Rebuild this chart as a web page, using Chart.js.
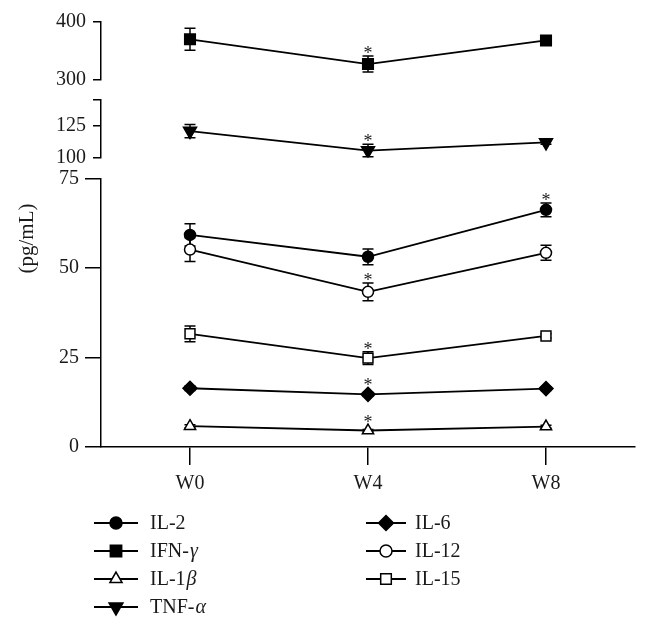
<!DOCTYPE html>
<html>
<head>
<meta charset="utf-8">
<script src="https://cdn.jsdelivr.net/npm/chart.js"></script>
<style>
  html, body { margin: 0; padding: 0; background: #fff; }
  #wrap { width: 648px; height: 628px; }
</style>
</head>
<body>
<div id="wrap"><canvas id="cytokines" width="648" height="628"></canvas></div>
<script>
// --- data ---
var weeks = ['W0', 'W4', 'W8'];

var il2 = [59.2, 53.1, 66.2];
var il2Err = [3.1, 2.2, 1.9];
var il2Sig = [false, false, true];

var ifnG = [370, 327, 368];
var ifnGErr = [19, 14, 5];
var ifnGSig = [false, true, false];

var il1b = [5.8, 4.6, 5.7];
var il1bErr = [0.4, 0.3, 0.4];
var il1bSig = [false, true, false];

var tnfA = [121, 105.6, 112];
var tnfAErr = [5.3, 5, 1.5];
var tnfASig = [false, true, false];

var il6 = [16.4, 14.7, 16.3];
var il6Err = [0.6, 0.5, 0.5];
var il6Sig = [false, true, false];

var il12 = [55.1, 43.3, 54.2];
var il12Err = [3.3, 2.5, 2.1];
var il12Sig = [false, true, false];

var il15 = [31.6, 24.8, 31];
var il15Err = [2.2, 1.8, 0.6];
var il15Sig = [false, true, false];

// broken y axis: three ranges and their tick labels
var topRange = [300, 400];
var topTicks = [300, 400];
var midRange = [100, 146];
var midTicks = [100, 125];
var botRange = [0, 75];
var botTicks = [0, 25, 50, 75];

var SERIF = '"Liberation Serif", "DejaVu Serif", serif';

// marker look for each series (legend column 1 first, then column 2)
var series = [
  { label: 'IL-2', data: il2, err: il2Err, sig: il2Sig, axis: 'yBot', style: 'circle', filled: true, r: 5.5, rot: 0 },
  { label: 'IFN-γ', data: ifnG, err: ifnGErr, sig: ifnGSig, axis: 'yTop', style: 'rect', filled: true, r: 7.5, rot: 0 },
  { label: 'IL-1β', data: il1b, err: il1bErr, sig: il1bSig, axis: 'yBot', style: 'triangle', filled: false, r: 6.5, rot: 0 },
  { label: 'TNF-α', data: tnfA, err: tnfAErr, sig: tnfASig, axis: 'yMid', style: 'triangle', filled: true, r: 7.5, rot: 180 },
  { label: 'IL-6', data: il6, err: il6Err, sig: il6Sig, axis: 'yBot', style: 'rectRot', filled: true, r: 7, rot: 0 },
  { label: 'IL-12', data: il12, err: il12Err, sig: il12Sig, axis: 'yBot', style: 'circle', filled: false, r: 5.5, rot: 0 },
  { label: 'IL-15', data: il15, err: il15Err, sig: il15Sig, axis: 'yBot', style: 'rect', filled: false, r: 7, rot: 0 }
];

function tickSetter(values, extraMax) {
  return function (scale) {
    var t = values.map(function (v) { return { value: v }; });
    if (extraMax) t.push({ value: scale.max });
    scale.ticks = t;
  };
}

function yAxis(range, ticks, weight, tickLen, pad, extraMax) {
  return {
    type: 'linear',
    position: 'left',
    stack: 'y',
    stackWeight: weight,
    min: range[0],
    max: range[1],
    afterBuildTicks: tickSetter(ticks, extraMax),
    afterFit: function (scale) { scale.width = 62; },
    border: { color: '#000', width: 1.5 },
    grid: { drawOnChartArea: false, color: '#000', tickColor: '#000', lineWidth: 1.5, tickLength: tickLen },
    ticks: {
      color: '#1a1a1a',
      padding: pad,
      autoSkip: false,
      font: { family: SERIF, size: 20 },
      callback: function (v) { return ticks.indexOf(v) >= 0 ? String(v) : ''; }
    }
  };
}

// error bars behind the markers, asterisks above them
var errorBars = {
  id: 'errorBars',
  beforeDatasetsDraw: function (chart) {
    var ctx = chart.ctx;
    ctx.save();
    ctx.strokeStyle = '#000';
    ctx.lineWidth = 1.5;
    chart.data.datasets.forEach(function (ds, i) {
      var meta = chart.getDatasetMeta(i);
      var ys = chart.scales[ds.yAxisID];
      meta.data.forEach(function (pt, j) {
        var e = ds.errors[j];
        if (!e) return;
        var top = ys.getPixelForValue(ds.data[j] + e);
        var bot = ys.getPixelForValue(ds.data[j] - e);
        ctx.beginPath();
        ctx.moveTo(pt.x, top); ctx.lineTo(pt.x, bot);
        ctx.moveTo(pt.x - 5.5, top); ctx.lineTo(pt.x + 5.5, top);
        ctx.moveTo(pt.x - 5.5, bot); ctx.lineTo(pt.x + 5.5, bot);
        ctx.stroke();
      });
    });
    ctx.restore();
  },
  afterDatasetsDraw: function (chart) {
    var ctx = chart.ctx;
    ctx.save();
    ctx.fillStyle = '#1a1a1a';
    ctx.font = '18px ' + SERIF;
    ctx.textAlign = 'center';
    ctx.textBaseline = 'alphabetic';
    chart.data.datasets.forEach(function (ds, i) {
      var meta = chart.getDatasetMeta(i);
      var ys = chart.scales[ds.yAxisID];
      meta.data.forEach(function (pt, j) {
        if (!ds.sig[j]) return;
        var top = ys.getPixelForValue(ds.data[j] + (ds.errors[j] || 0));
        var anchor = Math.min(top, pt.y - 6);
        ctx.fillText('*', pt.x, anchor + 3);
      });
    });
    ctx.restore();
  }
};

// y title and the two-column legend underneath
var extras = {
  id: 'extras',
  afterDraw: function (chart) {
    var ctx = chart.ctx;
    var area = chart.chartArea;
    ctx.save();
    ctx.fillStyle = '#1a1a1a';
    ctx.font = '21px ' + SERIF;
    ctx.textAlign = 'center';
    ctx.textBaseline = 'middle';
    ctx.translate(27, (area.top + area.bottom) / 2 + 4);
    ctx.rotate(-Math.PI / 2);
    ctx.fillText('(pg/mL)', 0, 0);
    ctx.restore();

    var cols = [{ x0: 94, x1: 138, tx: 150 }, { x0: 366, x1: 406, tx: 415 }];
    var rows = [523, 551, 579, 607];
    chart.data.datasets.forEach(function (ds, i) {
      var c = cols[i < 4 ? 0 : 1];
      var y = rows[i < 4 ? i : i - 4];
      ctx.save();
      ctx.strokeStyle = '#000';
      ctx.lineWidth = 1.8;
      ctx.beginPath();
      ctx.moveTo(c.x0, y); ctx.lineTo(c.x1, y);
      ctx.stroke();
      ctx.fillStyle = ds.pointBackgroundColor;
      ctx.lineWidth = 1.5;
      Chart.helpers.drawPoint(ctx, {
        pointStyle: ds.pointStyle, radius: ds.pointRadius + 0.5, rotation: ds.pointRotation, borderWidth: 1.5
      }, (c.x0 + c.x1) / 2, y);
      // label, Greek letter in italic
      ctx.fillStyle = '#1a1a1a';
      ctx.textBaseline = 'middle';
      ctx.textAlign = 'left';
      var m = ds.label.match(/^(.*?)([α-ω]?)$/);
      ctx.font = '20px ' + SERIF;
      ctx.fillText(m[1], c.tx, y + 1);
      if (m[2]) {
        var w = ctx.measureText(m[1]).width;
        ctx.font = 'italic 20px ' + SERIF;
        ctx.fillText(m[2], c.tx + w + 1, y + 1);
      }
      ctx.restore();
    });
  }
};

new Chart(document.getElementById('cytokines').getContext('2d'), {
  type: 'line',
  data: {
    labels: weeks,
    datasets: series.map(function (s) {
      return {
        label: s.label,
        data: s.data,
        errors: s.err,
        sig: s.sig,
        yAxisID: s.axis,
        borderColor: '#000',
        borderWidth: 1.8,
        fill: false,
        tension: 0,
        pointStyle: s.style,
        pointRadius: s.r,
        pointHoverRadius: s.r,
        pointRotation: s.rot,
        pointBackgroundColor: s.filled ? '#000' : '#fff',
        pointBorderColor: '#000',
        pointBorderWidth: 1.5
      };
    })
  },
  options: {
    responsive: false,
    animation: false,
    devicePixelRatio: 1,
    layout: { padding: { top: 22, left: 39, right: 13, bottom: 129 } },
    scales: {
      x: {
        type: 'category',
        offset: true,
        afterFit: function (scale) { scale.height = 52; },
        border: { color: '#000', width: 1.5 },
        grid: { offset: false, drawOnChartArea: false, color: '#000', tickColor: '#000', lineWidth: 1.5, tickLength: 18 },
        ticks: { color: '#1a1a1a', padding: 7, font: { family: SERIF, size: 20 } }
      },
      yBot: yAxis(botRange, botTicks, 268.7, 16, 6, false),
      yGapB: { display: false, position: 'left', stack: 'y', stackWeight: 20.7 },
      yMid: yAxis(midRange, midTicks, 58, 8, 7, true),
      yGapA: { display: false, position: 'left', stack: 'y', stackWeight: 20 },
      yTop: yAxis(topRange, topTicks, 57.6, 8, 7, false)
    },
    plugins: {
      legend: { display: false },
      tooltip: { enabled: false }
    }
  },
  plugins: [errorBars, extras]
});
</script>
</body>
</html>
